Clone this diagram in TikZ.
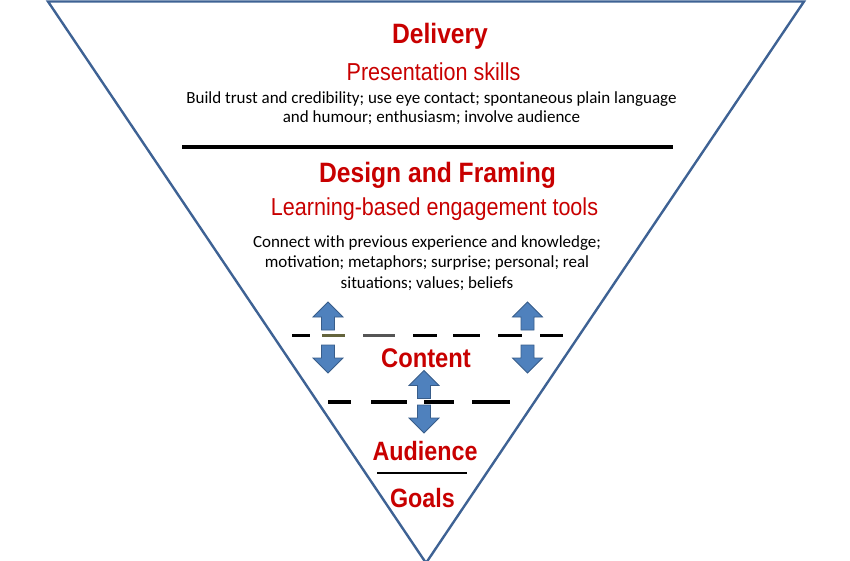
\documentclass[tikz,border=0pt]{standalone}
\usepackage{fontspec}
\setmainfont{Liberation Sans}
\newfontfamily\titlefont[FakeStretch=0.88]{Liberation Sans}
\newfontfamily\bodyfont{Carlito}
\definecolor{tri}{RGB}{62,98,148}
\definecolor{redt}{RGB}{200,0,0}
\definecolor{arrfill}{RGB}{79,129,189}
\definecolor{arrdraw}{RGB}{56,93,138}
\definecolor{olivedash}{RGB}{100,100,60}
\definecolor{graydash}{RGB}{85,85,85}
\tikzset{
  blockarrow/.style={fill=arrfill,draw=arrdraw,line width=0.8pt,line join=miter},
  uparrow/.pic={\path[blockarrow] (0,0) -- (15,15) -- (6.5,15) -- (6.5,28) -- (-6.5,28) -- (-6.5,15) -- (-15,15) -- cycle;},
  downarrow/.pic={\path[blockarrow] (0,0) -- (15,-15) -- (6.5,-15) -- (6.5,-28) -- (-6.5,-28) -- (-6.5,-15) -- (-15,-15) -- cycle;},
  bigtitle/.style={text=redt,anchor=base,inner sep=0pt,font=\titlefont\bfseries\fontsize{28}{30}\selectfont},
  subtitle/.style={text=redt,anchor=base,inner sep=0pt,font=\titlefont\fontsize{24.5}{26}\selectfont},
  bodytext/.style={anchor=base,inner sep=0pt,align=center,font=\bodyfont\fontsize{17}{19.5}\selectfont},
  dash1/.style={line width=3pt},
  dash2/.style={line width=4pt},
}
\begin{document}
\begin{tikzpicture}[x=1pt,y=-1pt]
\useasboundingbox (0,0) rectangle (850,561);
% triangle
\coordinate (tl) at (48,1.5);
\coordinate (tr) at (804,1.5);
\coordinate (ap) at (426,563);
\draw[tri,line width=2.4pt,line join=miter] (tl) -- (tr) -- (ap) -- cycle;
% texts
\node[bigtitle] (delivery) at (440,44) {Delivery};
\node[subtitle] (pres) at (433.5,81) {Presentation skills};
\node[bodytext] (body1) at (431.5,123) {Build trust and credibility; use eye contact; spontaneous plain language\\and humour; enthusiasm; involve audience};
\draw[line width=4pt] (182,147) -- (673,147);
\node[bigtitle] (design) at (437.5,183) {Design and Framing};
\node[subtitle] (learn) at (434.5,215) {Learning-based engagement tools};
\node[bodytext,font=\bodyfont\fontsize{17}{20.5}\selectfont] (body2) at (427,288) {Connect with previous experience and knowledge;\\motivation; metaphors; surprise; personal; real\\situations; values; beliefs};
% dashed line 1
\draw[dash1] (292,335) -- (310,335);
\draw[dash1,olivedash] (322,335) -- (345,335);
\draw[dash1,graydash] (363,335) -- (395,335);
\draw[dash1] (413,335) -- (437,335);
\draw[dash1] (453,335) -- (480,335);
\draw[dash1] (498,335) -- (522,335);
\draw[dash1] (540,335) -- (563,335);
% arrows
\pic at (328,302) {uparrow};
\pic at (328,373) {downarrow};
\pic at (527.5,302) {uparrow};
\pic at (527.5,373) {downarrow};
\node[bigtitle,font=\titlefont\bfseries\fontsize{27}{29}\selectfont] (content) at (426,367) {Content};
\pic at (424,370.5) {uparrow};
% dashed line 2
\draw[dash2] (328,402) -- (351,402);
\draw[dash2] (371,402) -- (407,402);
\draw[dash2] (424,402) -- (454,402);
\draw[dash2] (472,402) -- (510,402);
\pic at (424,433) {downarrow};
\node[bigtitle,font=\titlefont\bfseries\fontsize{26.5}{28}\selectfont] (aud) at (425,460) {Audience};
\draw[line width=2pt] (377,473) -- (467,473);
\node[bigtitle,font=\titlefont\bfseries\fontsize{26.5}{28}\selectfont] (goals) at (422.5,507) {Goals};
\end{tikzpicture}
\end{document}
